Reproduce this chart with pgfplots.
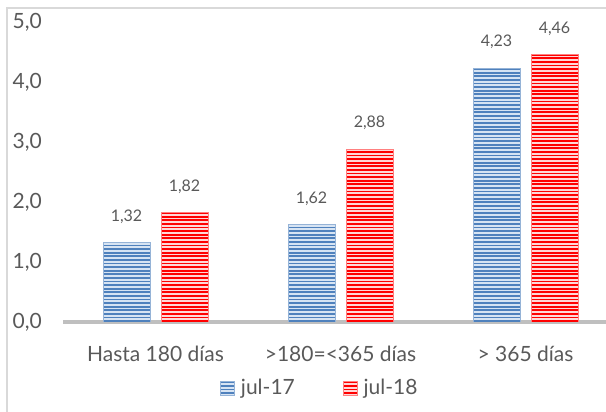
\documentclass[border=0pt]{standalone}
\usepackage{fontspec}
\setmainfont{Lato}
\usepackage{pgfplots}
\pgfplotsset{compat=1.18}
\usetikzlibrary{patterns}
\pgfdeclarepatternformonly{hstripes}{\pgfpoint{-1bp}{-1bp}}{\pgfpoint{701bp}{4.6bp}}{\pgfpoint{700bp}{3.6bp}}{%
  \pgfpathrectangle{\pgfpoint{-1bp}{0bp}}{\pgfpoint{702bp}{1.8bp}}\pgfusepath{fill}}
\definecolor{txt}{RGB}{89,89,89}
\definecolor{bluedark}{RGB}{79,129,189}
\definecolor{bluelight}{RGB}{215,228,243}
\definecolor{reddark}{RGB}{255,0,0}
\definecolor{redlight}{RGB}{255,215,215}
\definecolor{axgray}{RGB}{191,191,191}
\definecolor{border}{RGB}{217,217,217}
\begin{document}
\begin{tikzpicture}
\useasboundingbox (0,0) rectangle (606bp,412bp);
\draw[border, line width=1.5bp] (7bp,0) -- (7bp,404bp) -- (606bp,404bp);
\begin{axis}[
  at={(63bp,90bp)}, anchor=south west,
  scale only axis, width=543bp, height=300bp,
  ybar=11bp, bar width=47bp,
  xmin=-0.5, xmax=2.435, ymin=0, ymax=5,
  enlargelimits=false,
  axis x line*=bottom, axis y line*=left,
  x axis line style={draw=axgray, line width=3bp},
  y axis line style={draw=none},
  major tick length=0pt,
  xtick={0,1,2},
  xticklabels={Hasta 180 días, >180=<365 días, > 365 días},
  ytick={0,1,2,3,4,5},
  yticklabel={\pgfmathprintnumber[fixed,fixed zerofill,precision=1,use comma,assume math mode=true]{\tick}},
  yticklabel style={font=\fontsize{21bp}{24bp}\selectfont, text=txt, anchor=east, inner sep=0pt, xshift=-21bp},
  xticklabel style={font=\fontsize{21bp}{24bp}\selectfont, text=txt, anchor=center, yshift=-32bp},
  nodes near coords={\pgfmathprintnumber[fixed,fixed zerofill,precision=2,use comma,assume math mode=true]{\pgfplotspointmeta}},
  every node near coord/.append style={font=\fontsize{16bp}{18bp}\selectfont, text=txt, anchor=center, yshift=26bp},
  legend image code/.code={\draw[#1] (0bp,-7bp) rectangle (14bp,7bp); \path (18bp,0bp);},
  legend style={at={(0.473,-0.22)}, anchor=center, draw=none, fill=none,
    legend columns=2, font=\fontsize{21bp}{24bp}\selectfont, text=txt,
    /tikz/every even column/.append style={column sep=46bp}},
]
\addplot[draw=bluedark!60, line width=0.8bp, fill=bluelight,
  postaction={pattern=hstripes, pattern color=bluedark}]
  coordinates {(0,1.32) (1,1.62) (2,4.23)};
\addplot[draw=reddark!50, line width=0.8bp, fill=redlight,
  postaction={pattern=hstripes, pattern color=reddark}]
  coordinates {(0,1.82) (1,2.88) (2,4.46)};
\legend{jul-17, jul-18}
\end{axis}
\end{tikzpicture}
\end{document}
